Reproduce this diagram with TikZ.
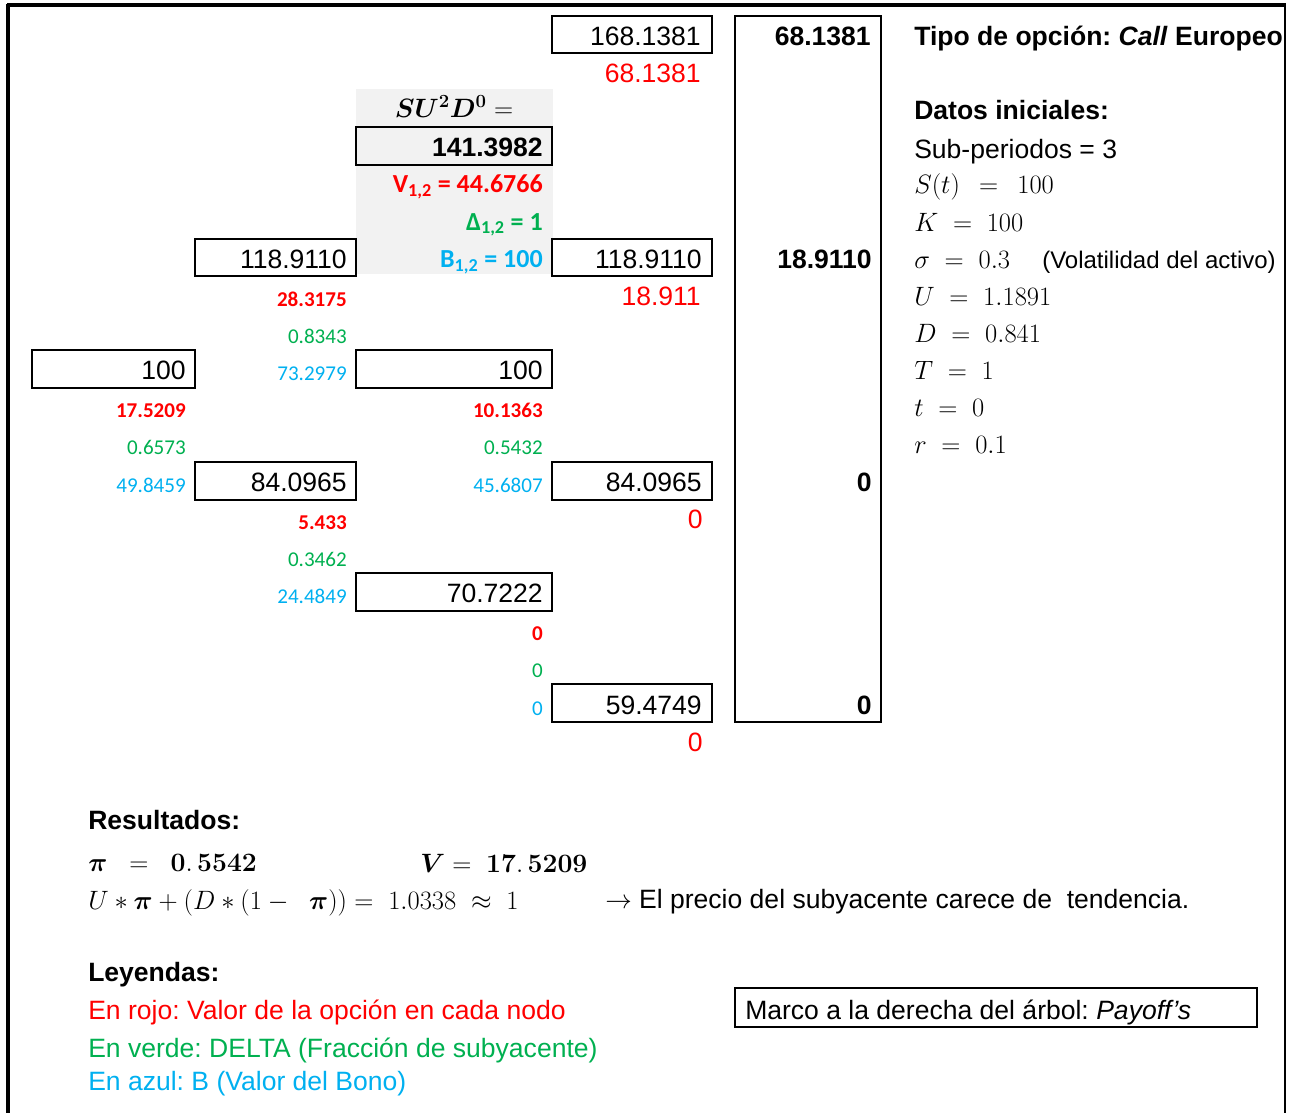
\RequirePackage{fix-cm}
\documentclass[tikz,border=0pt]{standalone}
\usepackage[no-math]{fontspec}
\setmainfont{Liberation Sans}
\newfontfamily\calibri{Carlito}
\usepackage{amsmath}
\usepackage{bm}
\definecolor{rojo}{RGB}{255,0,0}
\definecolor{verde}{RGB}{0,176,80}
\definecolor{azul}{RGB}{0,176,240}
\definecolor{gris}{RGB}{242,242,242}
\frenchspacing

\begin{document}
\begin{tikzpicture}[x=0.75pt,y=0.75pt,yscale=-1,xscale=1,
  celda/.style={line width=1.9pt},
  valor/.style={anchor=base east,inner sep=0pt,font=\fontsize{19.9}{23}\selectfont},
  pago/.style={anchor=base east,inner sep=0pt,font=\fontsize{19.9}{23}\selectfont\bfseries},
  nodo/.style={anchor=base east,inner sep=0pt,font=\calibri\fontsize{15.8}{19}\selectfont},
  nodob/.style={anchor=base east,inner sep=0pt,font=\calibri\bfseries\fontsize{15.8}{19}\selectfont},
  grande/.style={anchor=base east,inner sep=0pt,font=\calibri\bfseries\fontsize{19.5}{23}\selectfont},
  dato/.style={anchor=base west,inner sep=0pt,font=\fontsize{19.9}{24}\selectfont},
  titulo/.style={anchor=base west,inner sep=0pt,font=\fontsize{19.9}{24}\selectfont\bfseries}]
\useasboundingbox (0,0) rectangle (1291,1113);

%Shape: Rectangle (fondo gris del nodo SU^2D^0)
\fill [color=gris] (356,89) rectangle (553,274) ;

%Straight Lines (marco exterior)
\draw [line width=2.6pt] (7,5) -- (1286,5) ;
\draw [line width=2.8pt] (8,4) -- (8,1113) ;
\draw [line width=1.1pt] (1285,4) -- (1285,1113) ;

%Shape: Rectangle (celdas del arbol)
\draw [celda] (32,350) rectangle (195,388) ;
\draw [celda] (195,239) rectangle (356,276) ;
\draw [celda] (195,462) rectangle (356,500) ;
\draw [celda] (356,127) rectangle (552,165) ;
\draw [celda] (356,350) rectangle (552,388) ;
\draw [celda] (356,573) rectangle (552,611) ;
\draw [celda] (552,16) rectangle (712,53) ;
\draw [celda] (552,239) rectangle (712,276) ;
\draw [celda] (552,462) rectangle (712,500) ;
\draw [celda] (552,684) rectangle (712,722) ;
%Shape: Rectangle (payoffs)
\draw [celda] (735,16) rectangle (881,722) ;
%Shape: Rectangle (nota)
\draw [celda] (735,988) rectangle (1257,1027) ;

% Text Node (columna t=0)
\draw (186,379.6) node [valor] (s00) {100};
\draw (186,417.8) node [nodob,color=rojo] (v00) {17.5209};
\draw (186,454.9) node [nodo,color=verde] (d00) {0.6573};
\draw (186,492.1) node [nodo,color=azul] (b00) {49.8459};

% Text Node (columna t=1)
\draw (347,268.1) node [valor] (s11) {118.9110};
\draw (347,306.3) node [nodob,color=rojo] (v11) {28.3175};
\draw (347,343.4) node [nodo,color=verde] (d11) {0.8343};
\draw (347,380.6) node [nodo,color=azul] (b11) {73.2979};
\draw (347,491.1) node [valor] (s10) {84.0965};
\draw (347,529.2) node [nodob,color=rojo] (v10) {5.433};
\draw (347,566.4) node [nodo,color=verde] (d10) {0.3462};
\draw (347,603.6) node [nodo,color=azul] (b10) {24.4849};

% Text Node (columna t=2)
\draw (454,117) node [anchor=base,inner sep=0pt,font=\fontsize{19.9}{24}\selectfont] (e22) {$\bm{SU^2D^0} =$};
\draw (543,156.6) node [pago] (s22) {141.3982};
\draw (543,192.8) node [grande,color=rojo] (v22) {V\textsubscript{1,2} = 44.6766};
\draw (543,230) node [grande,color=verde] (d22) {Δ\textsubscript{1,2} = 1};
\draw (543,267.1) node [grande,color=azul] (b22) {B\textsubscript{1,2} = 100};
\draw (543,379.6) node [valor] (s21) {100};
\draw (543,417.8) node [nodob,color=rojo] (v21) {10.1363};
\draw (543,454.9) node [nodo,color=verde] (d21) {0.5432};
\draw (543,492.1) node [nodo,color=azul] (b21) {45.6807};
\draw (543,602.6) node [valor] (s20) {70.7222};
\draw (543,640.7) node [nodob,color=rojo] (v20) {0};
\draw (543,677.9) node [nodo,color=verde] (d20) {0};
\draw (543,715) node [nodo,color=azul] (b20) {0};

% Text Node (columna t=3)
\draw (701,45.2) node [valor] (s33) {168.1381};
\draw (701,83) node [valor,color=rojo] (v33) {68.1381};
\draw (702,268.1) node [valor] (s32) {118.9110};
\draw (701,305.3) node [valor,color=rojo] (v32) {18.911};
\draw (702,491.1) node [valor] (s31) {84.0965};
\draw (703,528.7) node [valor,color=rojo] (v31) {0};
\draw (702,714) node [valor] (s30) {59.4749};
\draw (703,751.7) node [valor,color=rojo] (v30) {0};

% Text Node (payoffs)
\draw (871,45.2) node [pago] (p3) {68.1381};
\draw (872,268.1) node [pago] (p2) {18.9110};
\draw (872,491.1) node [pago] (p1) {0};
\draw (872,714) node [pago] (p0) {0};

% Text Node (datos)
\draw (914,45.2) node [titulo] (tipo) {Tipo de opción: \textit{Call} Europeo};
\draw (914,119.5) node [titulo] (datos) {Datos iniciales:};
\draw (914,158) node [dato] (sub) {Sub-periodos = 3};
\draw (914,193.8) node [dato] (spot) {$S(t)\ \,=\ \,100$};
\draw (914,231) node [dato] (strike) {$K\ =\ 100$};
\draw (914,268.1) node [dato] (sigma) {$\sigma\ =\ 0.3$};
\draw (1042,268.1) node [anchor=base west,inner sep=0pt,font=\fontsize{18}{22}\selectfont] (vol) {(Volatilidad del activo)};
\draw (914,305.3) node [dato] (up) {$U\ =\ 1.1891$};
\draw (914,342.4) node [dato] (down) {$D\ =\ 0.841$};
\draw (914,379.6) node [dato] (mat) {$T\ =\ 1$};
\draw (914,416.8) node [dato] (hoy) {$t\ =\ 0$};
\draw (914,453.9) node [dato] (tasa) {$r\ =\ 0.1$};

% Text Node (resultados)
\draw (88,829) node [titulo] (res) {Resultados:};
\draw (88,871) node [dato] (prob) {$\bm{\pi}\ \ =\ \ \mathbf{0.\,5542}$};
\draw (420,872) node [dato] (precio) {$\bm{V} =\ \mathbf{17.\,5209}$};
\draw (88,909) node [dato] (check) {$U * \bm{\pi} + (D * (1 -\ \ \bm{\pi})) =\ 1.0338\ \approx\ 1$};
\draw (605,908) node [dato] (tend) {$\rightarrow$ El precio del subyacente carece de\ \ tendencia.};

% Text Node (leyendas)
\draw (88,981) node [titulo] (ley) {Leyendas:};
\draw (88,1019) node [dato,color=rojo] (lrojo) {En rojo: Valor de la opción en cada nodo};
\draw (88,1057) node [dato,color=verde] (lverde) {En verde: DELTA (Fracción de subyacente)};
\draw (88,1090) node [dato,color=azul] (lazul) {En azul: B (Valor del Bono)};
\draw (745,1019) node [dato] (marco) {Marco a la derecha del árbol: \textit{Payoff’s}};

\end{tikzpicture}
\end{document}
